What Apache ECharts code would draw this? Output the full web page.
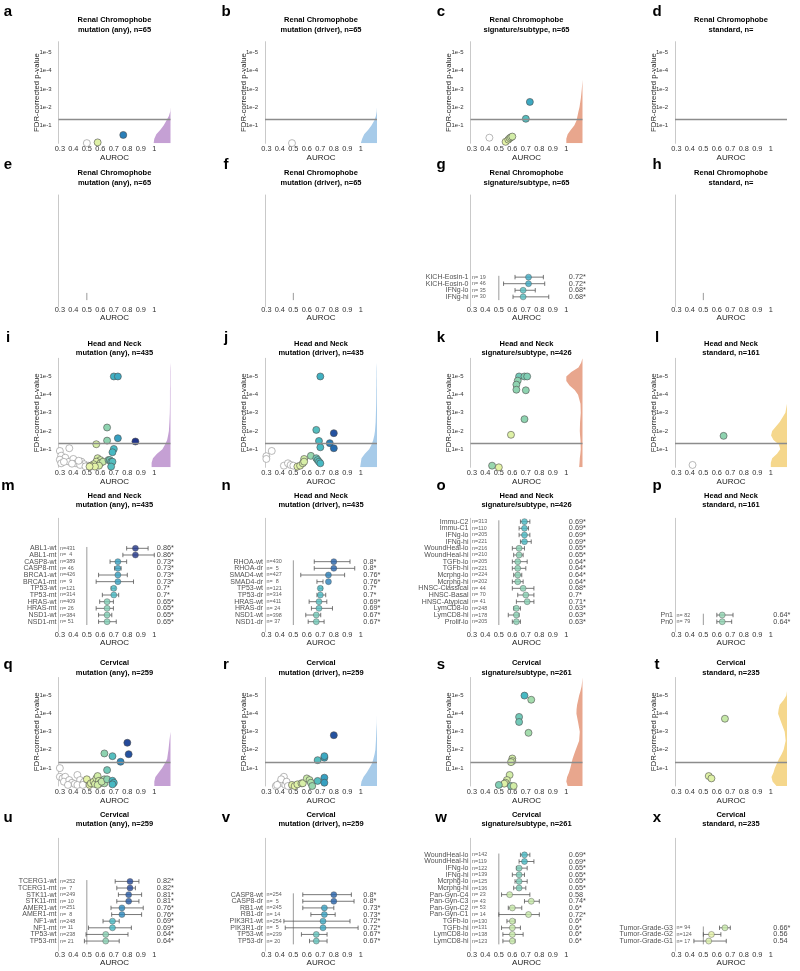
<!DOCTYPE html>
<html><head><meta charset="utf-8">
<script src="https://cdn.jsdelivr.net/npm/echarts@6/dist/echarts.min.js"></script>
<style>html,body{margin:0;padding:0;background:#fff}#c{width:800px;height:971px}</style>
</head><body><div id="c"></div>
<script>
// ================= DATA =================
const letters = [['a','b','c','d'],['e','f','g','h'],['i','j','k','l'],['m','n','o','p'],['q','r','s','t'],['u','v','w','x']];
const cancers = ['Renal Chromophobe','Head and Neck','Cervical'];
const kinds = ['mutation (any)','mutation (driver)','signature/subtype','standard'];
const nKich = ['65','65','65',''];
const nHnsc = ['435','435','426','161'];
const nCesc = ['259','259','261','235'];
const xTicks = [0.3,0.4,0.5,0.6,0.7,0.8,0.9,1];
const yTicks = [1,2,3,4,5];           // -log10(FDR p)
const pThreshold = 0.05;
const violinLevels = [0,0.25,0.5,0.75,1,1.25,1.5,1.75,2,2.5,3,3.5,4,4.25,4.5,4.75,5,5.25,5.5,5.75,6];

// --- scatter panels: AUROC (x), -log10 p (y), colour value (c) ---
const aX = [0.50,0.58,0.77];
const aY = [0.01,0.05,0.46];
const aC = [0.45,0.56,0.77];
const aViolin = [0.125,0.12,0.105,0.075,0.05,0.03,0.012,0.002,0,0,0,0,0,0,0,0,0,0,0,0,0];

const bX = [0.49];
const bY = [0.01];
const bC = [0.45];
const bViolin = [0.12,0.11,0.095,0.065,0.04,0.02,0.008,0.002,0,0,0,0,0,0,0,0,0,0,0,0,0];

const cX = [0.43,0.70,0.73,0.55,0.57,0.58,0.59,0.60];
const cY = [0.31,1.35,2.28,0.08,0.20,0.28,0.33,0.37];
const cC = [0.45,0.69,0.72,0.55,0.56,0.57,0.58,0.58];
const cViolin = [0.12,0.12,0.11,0.086,0.06,0.044,0.037,0.03,0.022,0.012,0.005,0,0,0,0,0,0,0,0,0,0];

const iX = [0.30,0.37,0.31,0.34,0.30,0.31,0.37,0.40,0.42,0.46,0.48,0.45,0.51,0.33,0.39,0.44,0.49,
            0.57,0.58,0.60,0.57,0.55,0.53,0.60,0.62,0.59,0.56,0.52,
            0.65,0.65,0.66,0.67,0.68,0.69,0.68,0.70,0.69,0.70,0.73,0.73,0.86];
const iY = [0.90,1.05,0.64,0.53,0.42,0.22,0.31,0.46,0.22,0.31,0.17,0.13,0.09,0.30,0.20,0.36,0.05,
            1.27,0.50,0.40,0.31,0.17,0.09,0.22,0.31,0.09,0.04,0.04,
            2.19,1.47,0.40,0.40,0.31,0.31,0.04,1.01,0.83,5.00,5.00,1.60,1.42];
const iC = [0.45,0.45,0.45,0.45,0.45,0.45,0.45,0.45,0.45,0.45,0.45,0.45,0.45,0.45,0.45,0.45,0.45,
            0.57,0.57,0.58,0.56,0.56,0.55,0.58,0.60,0.57,0.55,0.54,
            0.65,0.65,0.66,0.67,0.68,0.69,0.69,0.70,0.70,0.71,0.72,0.73,0.86];
const iViolin = [0.14,0.14,0.13,0.10,0.06,0.04,0.025,0.018,0.012,0.008,0.005,0.004,0.004,0.004,0.003,0.003,0.003,0.003,0.002,0,0];

const jX = [0.30,0.30,0.34,0.43,0.46,0.48,0.50,
            0.53,0.55,0.57,0.58,0.58,0.63,0.67,0.68,0.69,0.70,0.67,0.69,0.70,0.70,0.77,0.80,0.80];
const jY = [0.61,0.46,0.90,0.09,0.22,0.13,0.09,
            0.04,0.09,0.22,0.46,0.31,0.63,0.50,0.40,0.31,0.22,2.06,1.45,1.10,5.00,1.33,1.88,1.05];
const jC = [0.45,0.45,0.45,0.45,0.45,0.45,0.45,
            0.55,0.56,0.57,0.58,0.57,0.64,0.67,0.68,0.69,0.70,0.69,0.70,0.70,0.71,0.77,0.82,0.79];
const jViolin = [0.125,0.12,0.115,0.09,0.058,0.04,0.028,0.02,0.015,0.01,0.008,0.006,0.005,0.005,0.004,0.004,0.003,0.003,0.002,0,0];

const kX = [0.65,0.69,0.71,0.64,0.63,0.63,0.70,0.69,0.59,0.45,0.50];
const kY = [5.00,5.00,5.00,4.77,4.55,4.27,4.24,2.65,1.79,0.09,0.00];
const kC = [0.67,0.66,0.66,0.65,0.65,0.65,0.65,0.65,0.56,0.64,0.55];
const kViolin = [0.025,0.022,0.02,0.016,0.013,0.014,0.015,0.018,0.02,0.018,0.013,0.015,0.033,0.058,0.096,0.12,0.12,0.083,0.03,0.01,0];

const lX = [0.42,0.65];
const lY = [0.13,1.73];
const lC = [0.45,0.65];
const lViolin = [0.12,0.12,0.11,0.074,0.05,0.06,0.10,0.118,0.11,0.054,0.012,0,0,0,0,0,0,0,0,0,0];

const qX = [0.30,0.30,0.32,0.34,0.33,0.37,0.39,0.41,0.43,0.45,0.47,0.43,0.48,0.47,0.36,
            0.50,0.52,0.53,0.55,0.56,0.57,0.58,0.59,0.60,0.58,0.63,0.63,0.61,0.65,0.65,0.63,0.69,0.69,0.70,0.69,0.75,0.80,0.81];
const qY = [0.99,0.51,0.42,0.51,0.24,0.33,0.18,0.11,0.61,0.33,0.11,0.06,0.24,0.06,0.06,
            0.37,0.06,0.15,0.24,0.11,0.42,0.55,0.29,0.15,0.06,0.37,0.15,0.24,0.88,0.37,1.80,1.65,0.29,0.18,0.09,1.34,2.39,1.76];
const qC = [0.45,0.45,0.45,0.45,0.45,0.45,0.45,0.45,0.45,0.45,0.45,0.45,0.45,0.45,0.45,
            0.55,0.55,0.56,0.56,0.57,0.57,0.58,0.58,0.59,0.58,0.62,0.62,0.60,0.67,0.65,0.65,0.69,0.70,0.70,0.70,0.76,0.83,0.82];
const qViolin = [0.12,0.12,0.112,0.087,0.062,0.042,0.025,0.02,0.015,0.008,0,0,0,0,0,0,0,0,0,0,0];

const rX = [0.37,0.40,0.43,0.41,0.44,0.45,0.46,0.38,
            0.49,0.51,0.53,0.56,0.57,0.60,0.62,0.63,0.64,0.68,0.68,0.73,0.73,0.73,0.73,0.80];
const rY = [0.00,0.15,0.51,0.37,0.06,0.24,0.00,0.06,
            0.06,0.00,0.09,0.15,0.15,0.42,0.33,0.18,0.00,0.28,1.43,1.56,1.65,0.46,0.18,2.81];
const rC = [0.45,0.45,0.45,0.45,0.45,0.45,0.45,0.45,
            0.55,0.55,0.56,0.57,0.57,0.59,0.60,0.62,0.64,0.69,0.69,0.72,0.72,0.73,0.73,0.82];
const rViolin = [0.12,0.115,0.10,0.076,0.056,0.037,0.027,0.018,0.012,0.008,0.005,0.001,0,0,0,0,0,0,0,0,0];

const sX = [0.69,0.74,0.65,0.65,0.72,0.60,0.60,0.59,0.58,0.56,0.55,0.54,0.50,0.59,0.61];
const sY = [5.00,4.77,3.82,3.54,2.94,1.52,1.38,1.32,0.61,0.33,0.18,0.13,0.06,0.00,0.00];
const sC = [0.70,0.63,0.67,0.67,0.63,0.58,0.58,0.58,0.58,0.57,0.57,0.56,0.66,0.66,0.58];
const sViolin = [0.11,0.12,0.114,0.10,0.09,0.082,0.074,0.062,0.05,0.025,0.02,0.032,0.045,0.044,0.04,0.032,0.025,0.015,0.007,0.003,0];

const tX = [0.66,0.54,0.56];
const tY = [3.72,0.55,0.42];
const tC = [0.60,0.56,0.56];
const tViolin = [0.078,0.107,0.115,0.10,0.09,0.075,0.06,0.04,0.025,0.01,0.017,0.042,0.066,0.062,0.054,0.025,0.005,0,0,0,0];

// --- forest panels ---
const gLabels = ['KICH-Eosin-1','KICH-Eosin-0','IFNg-lo','IFNg-hi'];
const gN   = [19,46,35,30];
const gAuc = [0.72,0.72,0.68,0.68];
const gLo  = [0.62,0.535,0.62,0.605];
const gHi  = [0.83,0.84,0.77,0.87];
const gSig = [1,1,1,1];
const gC   = [0.72,0.72,0.69,0.69];

const mLabels = ['ABL1-wt','ABL1-mt','CASP8-wt','CASP8-mt','BRCA1-wt','BRCA1-mt','TP53-wt','TP53-mt','HRAS-wt','HRAS-mt','NSD1-wt','NSD1-mt'];
const mN   = [431,4,389,46,426,9,121,314,409,26,384,51];
const mAuc = [0.86,0.86,0.73,0.73,0.73,0.73,0.7,0.7,0.65,0.65,0.65,0.65];
const mLo  = [0.795,0.767,0.672,0.705,0.587,0.569,0.68,0.615,0.595,0.569,0.587,0.587];
const mHi  = [0.954,1.0,0.795,0.754,0.80,0.846,0.71,0.736,0.697,0.697,0.685,0.718];
const mSig = [1,1,1,1,1,1,1,1,1,1,1,1];
const mC   = [0.86,0.86,0.73,0.73,0.73,0.73,0.70,0.70,0.66,0.66,0.66,0.66];

const nLabels = ['RHOA-wt','RHOA-dr','SMAD4-wt','SMAD4-dr','TP53-wt','TP53-dr','HRAS-wt','HRAS-dr','NSD1-wt','NSD1-dr'];
const nN   = [430,5,427,8,121,314,411,24,398,37];
const nAuc = [0.8,0.8,0.76,0.76,0.7,0.7,0.69,0.69,0.67,0.67];
const nLo  = [0.655,0.655,0.555,0.675,0.69,0.675,0.617,0.634,0.592,0.61];
const nHi  = [0.92,0.955,0.88,0.72,0.715,0.74,0.748,0.79,0.703,0.728];
const nSig = [1,1,1,1,1,1,1,1,1,1];
const nC   = [0.80,0.80,0.77,0.77,0.70,0.70,0.69,0.69,0.67,0.67];

const oLabels = ['Immu-C2','Immu-C1','IFNg-lo','IFNg-hi','WoundHeal-lo','WoundHeal-hi','TGFb-lo','TGFb-hi','Mcrphg-lo','Mcrphg-hi','HNSC-Classical','HNSC-Basal','HNSC-Atypical','LymCD8-lo','LymCD8-hi','Prolif-lo'];
const oN   = [313,110,205,221,216,210,205,221,224,202,44,70,41,248,178,205];
const oAuc = [0.69,0.69,0.69,0.69,0.65,0.65,0.64,0.64,0.64,0.64,0.68,0.7,0.71,0.63,0.63,0.63];
const oLo  = [0.66,0.65,0.65,0.66,0.60,0.61,0.60,0.60,0.61,0.60,0.60,0.64,0.63,0.61,0.57,0.60];
const oHi  = [0.73,0.72,0.73,0.74,0.69,0.68,0.71,0.70,0.67,0.68,0.76,0.76,0.76,0.66,0.65,0.66];
const oSig = [1,1,1,1,1,1,1,1,1,1,1,1,1,1,1,1];
const oC   = [0.70,0.70,0.70,0.70,0.655,0.655,0.655,0.655,0.655,0.655,0.655,0.655,0.655,0.655,0.655,0.655];

const pLabels = ['Pn1','Pn0'];
const pN   = [82,79];
const pAuc = [0.64,0.64];
const pLo  = [0.60,0.60];
const pHi  = [0.72,0.71];
const pSig = [1,1];
const pC   = [0.65,0.65];

const uLabels = ['TCERG1-wt','TCERG1-mt','STK11-wt','STK11-mt','AMER1-wt','AMER1-mt','NF1-wt','NF1-mt','TP53-wt','TP53-mt'];
const uN   = [252,7,249,10,251,8,248,11,238,21];
const uAuc = [0.82,0.82,0.81,0.81,0.76,0.76,0.69,0.69,0.64,0.64];
const uLo  = [0.71,0.722,0.734,0.722,0.679,0.684,0.62,0.512,0.494,0.482];
const uHi  = [0.886,0.86,0.906,0.886,0.918,0.906,0.74,0.83,0.805,0.74];
const uSig = [1,1,1,1,1,1,1,1,1,1];
const uC   = [0.83,0.83,0.81,0.81,0.76,0.76,0.70,0.70,0.655,0.655];

const vLabels = ['CASP8-wt','CASP8-dr','RB1-wt','RB1-dr','PIK3R1-wt','PIK3R1-dr','TP53-wt','TP53-dr'];
const vN   = [254,5,245,14,254,5,239,20];
const vAuc = [0.8,0.8,0.73,0.73,0.72,0.72,0.67,0.67];
const vLo  = [0.57,0.57,0.57,0.63,0.43,0.44,0.56,0.62];
const vHi  = [0.93,0.95,0.80,0.81,0.92,0.98,0.75,0.75];
const vSig = [1,1,1,1,1,1,1,1];
const vC   = [0.80,0.80,0.73,0.73,0.72,0.72,0.68,0.68];

const wLabels = ['WoundHeal-lo','WoundHeal-hi','IFNg-lo','IFNg-hi','Mcrphg-lo','Mcrphg-hi','Pan-Gyn-C4','Pan-Gyn-C3','Pan-Gyn-C2','Pan-Gyn-C1','TGFb-lo','TGFb-hi','LymCD8-lo','LymCD8-hi'];
const wN   = [142,119,122,139,125,136,23,43,53,14,130,131,138,123];
const wAuc = [0.69,0.69,0.65,0.65,0.65,0.65,0.58,0.74,0.6,0.72,0.6,0.6,0.6,0.6];
const wLo  = [0.66,0.65,0.63,0.60,0.62,0.61,0.52,0.69,0.57,0.50,0.56,0.52,0.53,0.53];
const wHi  = [0.73,0.76,0.71,0.69,0.71,0.70,0.73,0.80,0.67,0.80,0.62,0.66,0.68,0.62];
const wSig = [1,1,1,1,1,1,0,1,1,1,1,1,1,1];
const wC   = [0.70,0.70,0.665,0.665,0.665,0.665,0.60,0.60,0.60,0.60,0.60,0.60,0.60,0.60];

const xLabels = ['Tumor-Grade-G3','Tumor-Grade-G2','Tumor-Grade-G1'];
const xN   = [94,124,17];
const xAuc = [0.66,0.56,0.54];
const xLo  = [0.62,0.50,0.43];
const xHi  = [0.70,0.63,0.67];
const xSig = [1,0,0];
const xC   = [0.60,0.55,0.57];

// ================= LAYOUT / STYLE =================
const FONT = 'Liberation Sans, Arial, Helvetica, sans-serif';
const X_MIN = 0.29, X_MAX = 1.12;
const COL_LEFT = [58.5, 265, 470.5, 675];
const GRID_W = 112;
const LETTER_X = [8, 226, 441, 657];
const ROWS = [
  {top:41.7,  height:101.6, ymax:5.6, t1:20,    t2:29.5,  letter:12},
  {top:195,   height:111.7,           t1:173.3, t2:182.7, letter:165},
  {top:358.3, height:109,   ymax:6,   t1:344.3, t2:353,   letter:337.7},
  {top:518.3, height:113.4,           t1:496,   t2:504.5, letter:486},
  {top:677.5, height:108.5, ymax:6,   t1:663.3, t2:672.8, letter:665},
  {top:838.3, height:112.7,           t1:815,   t2:824,   letter:818.3}
];
const VIOLIN_COL = ['#c5a0d4','#a7cbe9','#e8a68d','#f5d78c'];
const CMAP = [[0.50,[241,249,184]],[0.55,[228,243,166]],[0.60,[198,233,168]],[0.65,[142,211,176]],
              [0.70,[71,185,195]],[0.75,[43,144,192]],[0.80,[37,99,171]],[0.85,[35,56,143]],[0.90,[27,39,117]]];
function colourOf(v){
  if (v < 0.5) return '#ffffff';
  if (v >= CMAP[CMAP.length-1][0]) { const c=CMAP[CMAP.length-1][1]; return `rgb(${c})`; }
  for (let i=0;i<CMAP.length-1;i++){
    const [a,ca]=CMAP[i],[b,cb]=CMAP[i+1];
    if (v>=a && v<=b){ const t=(v-a)/(b-a); return 'rgb('+ca.map((x,k)=>Math.round(x+(cb[k]-x)*t)).join(',')+')'; }
  }
  return '#fff';
}

const scatterPanels = [
  {row:0,col:0,x:aX,y:aY,c:aC,v:aViolin},
  {row:0,col:1,x:bX,y:bY,c:bC,v:bViolin},
  {row:0,col:2,x:cX,y:cY,c:cC,v:cViolin},
  {row:0,col:3,x:[],y:[],c:[],v:null},
  {row:2,col:0,x:iX,y:iY,c:iC,v:iViolin},
  {row:2,col:1,x:jX,y:jY,c:jC,v:jViolin},
  {row:2,col:2,x:kX,y:kY,c:kC,v:kViolin},
  {row:2,col:3,x:lX,y:lY,c:lC,v:lViolin},
  {row:4,col:0,x:qX,y:qY,c:qC,v:qViolin},
  {row:4,col:1,x:rX,y:rY,c:rC,v:rViolin},
  {row:4,col:2,x:sX,y:sY,c:sC,v:sViolin},
  {row:4,col:3,x:tX,y:tY,c:tC,v:tViolin}
];
const EMPTY = {labels:[],n:[],auc:[],lo:[],hi:[],sig:[],c:[]};
const forestPanels = [
  {row:1,col:0,...EMPTY},
  {row:1,col:1,...EMPTY},
  {row:1,col:2,labels:gLabels,n:gN,auc:gAuc,lo:gLo,hi:gHi,sig:gSig,c:gC},
  {row:1,col:3,...EMPTY},
  {row:3,col:0,labels:mLabels,n:mN,auc:mAuc,lo:mLo,hi:mHi,sig:mSig,c:mC},
  {row:3,col:1,labels:nLabels,n:nN,auc:nAuc,lo:nLo,hi:nHi,sig:nSig,c:nC},
  {row:3,col:2,labels:oLabels,n:oN,auc:oAuc,lo:oLo,hi:oHi,sig:oSig,c:oC},
  {row:3,col:3,labels:pLabels,n:pN,auc:pAuc,lo:pLo,hi:pHi,sig:pSig,c:pC},
  {row:5,col:0,labels:uLabels,n:uN,auc:uAuc,lo:uLo,hi:uHi,sig:uSig,c:uC},
  {row:5,col:1,labels:vLabels,n:vN,auc:vAuc,lo:vLo,hi:vHi,sig:vSig,c:vC},
  {row:5,col:2,labels:wLabels,n:wN,auc:wAuc,lo:wLo,hi:wHi,sig:wSig,c:wC},
  {row:5,col:3,labels:xLabels,n:xN,auc:xAuc,lo:xLo,hi:xHi,sig:xSig,c:xC}
];

// ================= BUILD =================
const grid=[], xAxis=[], yAxis=[], series=[], graphic=[];
const fmtX = v => String(+(+v).toFixed(1));

function xAxisFor(gi, gap){
  return {gridIndex:gi, type:'value', min:X_MIN, max:X_MAX,
    axisLine:{show:false,onZero:false}, axisTick:{show:false}, splitLine:{show:false},
    axisLabel:{customValues:xTicks, formatter:fmtX, fontSize:7.4, color:'#333', margin:gap.m, fontFamily:FONT, hideOverlap:false},
    name:'AUROC', nameLocation:'middle', nameGap:gap.n, nameMoveOverlap:false,
    nameTextStyle:{fontSize:8, color:'#222', fontFamily:FONT}};
}

function addHeader(row,col){
  const R = ROWS[row];
  const cx = COL_LEFT[col] + GRID_W/2;
  const ci = Math.floor(row/2);
  const nArr = [nKich,nHnsc,nCesc][ci];
  graphic.push({type:'text', x:LETTER_X[col], y:R.letter, silent:true,
    style:{text:letters[row][col], fontSize:15, fontWeight:'bold', fontFamily:FONT, fill:'#000', align:'center', verticalAlign:'middle'}});
  graphic.push({type:'text', x:cx, y:R.t1, silent:true,
    style:{text:cancers[ci], fontSize:7.5, fontWeight:'bold', fontFamily:FONT, fill:'#000', align:'center', verticalAlign:'middle'}});
  graphic.push({type:'text', x:cx, y:R.t2, silent:true,
    style:{text:kinds[col]+', n='+nArr[col], fontSize:7.5, fontWeight:'bold', fontFamily:FONT, fill:'#000', align:'center', verticalAlign:'middle'}});
}

scatterPanels.forEach(p=>{
  const R = ROWS[p.row];
  const gi = grid.length;
  grid.push({left:COL_LEFT[p.col], top:R.top, width:GRID_W, height:R.height, outerBoundsMode:'none'});
  xAxis.push(xAxisFor(gi,{m:2,n:10.5}));
  yAxis.push({gridIndex:gi, type:'value', min:0, max:R.ymax,
    axisLine:{show:true,onZero:false,lineStyle:{color:'#c9c9c9',width:1}}, axisTick:{show:false}, splitLine:{show:false},
    axisLabel:{customValues:yTicks, formatter:v=>'1e-'+Math.round(v), fontSize:6, color:'#333', margin:7, fontFamily:FONT, hideOverlap:false},
    name:'FDR-corrected p-value', nameLocation:'middle', nameGap:17.5, nameRotate:90, nameMoveOverlap:false,
    nameTextStyle:{fontSize:7.8, color:'#222', fontFamily:FONT}});
  if (p.v){
    const widths = p.v, fill = VIOLIN_COL[p.col];
    series.push({type:'custom', xAxisIndex:gi, yAxisIndex:gi, z:1, silent:true, clip:true,
      data:[[X_MAX,0]],
      renderItem:(params,api)=>{
        const pts = violinLevels.map((y,k)=>api.coord([X_MAX-widths[k], y]));
        pts.push(api.coord([X_MAX, violinLevels[violinLevels.length-1]]));
        pts.push(api.coord([X_MAX, 0]));
        return {type:'polygon', shape:{points:pts}, style:{fill:fill, stroke:null}};
      }});
  }
  series.push({type:'scatter', xAxisIndex:gi, yAxisIndex:gi, z:3, symbolSize:7, clip:false,
    data:p.x.map((x,k)=>({value:[x,p.y[k]], itemStyle:{color:colourOf(p.c[k]), borderColor:p.c[k]<0.5?'#8a8a8a':'#4d4d4d', borderWidth:0.6, opacity:1}})),
    markLine:{silent:true, symbol:'none', animation:false, label:{show:false},
      lineStyle:{color:'#8c8c8c', width:1.3, type:'solid'}, data:[{yAxis:-Math.log10(pThreshold)}]}});
  addHeader(p.row,p.col);
});

forestPanels.forEach(p=>{
  const R = ROWS[p.row];
  const gi = grid.length;
  const n = p.labels.length;
  const pos = p.labels.map((_,k)=>n-k);
  grid.push({left:COL_LEFT[p.col], top:R.top, width:GRID_W, height:R.height, outerBoundsMode:'none'});
  xAxis.push(xAxisFor(gi,{m:0,n:7.5}));
  yAxis.push({gridIndex:gi, type:'value', min:-0.5, max:16.5,
    axisLine:{show:true,onZero:false,lineStyle:{color:'#c9c9c9',width:1}}, axisTick:{show:false}, splitLine:{show:false},
    axisLabel:{show:false}});
  // reference line at AUROC 0.5
  series.push({type:'custom', xAxisIndex:gi, yAxisIndex:gi, z:1, silent:true, clip:false,
    data:[[0.5, 0.5, n>0 ? n+0.2 : 1.6]],
    encode:{x:0,y:[1,2]},
    renderItem:(params,api)=>{
      const a=api.coord([api.value(0),api.value(1)]), b=api.coord([api.value(0),api.value(2)]);
      return {type:'line', shape:{x1:a[0],y1:a[1],x2:b[0],y2:b[1]}, style:{stroke:'#9a9a9a',lineWidth:1}};
    }});
  if (!n){ addHeader(p.row,p.col); return; }
  // error bars
  series.push({type:'custom', xAxisIndex:gi, yAxisIndex:gi, z:2, silent:true, clip:false,
    data:pos.map((y,k)=>[p.lo[k],p.hi[k],y]),
    encode:{x:[0,1],y:2},
    renderItem:(params,api)=>{
      const y=api.value(2);
      const a=api.coord([api.value(0),y]), b=api.coord([api.value(1),y]);
      const cap=2.2, st={stroke:'#555',lineWidth:0.8};
      return {type:'group', children:[
        {type:'line', shape:{x1:a[0],y1:a[1],x2:b[0],y2:b[1]}, style:st},
        {type:'line', shape:{x1:a[0],y1:a[1]-cap,x2:a[0],y2:a[1]+cap}, style:st},
        {type:'line', shape:{x1:b[0],y1:b[1]-cap,x2:b[0],y2:b[1]+cap}, style:st}]};
    }});
  // points
  series.push({type:'scatter', xAxisIndex:gi, yAxisIndex:gi, z:3, symbolSize:6, clip:false,
    data:pos.map((y,k)=>({value:[p.auc[k],y], itemStyle:{color:colourOf(p.c[k]), borderColor:'#4d4d4d', borderWidth:0.5}}))});
  // row names (left of axis)
  series.push({type:'scatter', xAxisIndex:gi, yAxisIndex:gi, z:4, symbolSize:1, silent:true, clip:false,
    itemStyle:{color:'transparent'}, labelLayout:{hideOverlap:false},
    label:{show:true, position:'left', distance:1.5, formatter:'{b}', fontSize:7, color:'#222', fontFamily:FONT},
    data:pos.map((y,k)=>({name:p.labels[k], value:[X_MIN,y]}))});
  // n= labels
  const nTxt = v => v<10 ? 'n=  '+v : (v<100 ? 'n= '+v : 'n='+v);
  series.push({type:'scatter', xAxisIndex:gi, yAxisIndex:gi, z:4, symbolSize:1, silent:true, clip:false,
    itemStyle:{color:'transparent'}, labelLayout:{hideOverlap:false},
    label:{show:true, position:'right', distance:1, formatter:'{b}', fontSize:5.4, color:'#333', fontFamily:FONT},
    data:pos.map((y,k)=>({name:nTxt(p.n[k]), value:[X_MIN,y]}))});
  // value labels
  series.push({type:'scatter', xAxisIndex:gi, yAxisIndex:gi, z:4, symbolSize:1, silent:true, clip:false,
    itemStyle:{color:'transparent'}, labelLayout:{hideOverlap:false},
    label:{show:true, position:'right', distance:0, formatter:'{b}', fontSize:7.3, color:'#111', fontFamily:FONT},
    data:pos.map((y,k)=>({name:String(p.auc[k])+(p.sig[k]?'*':''), value:[1.015,y]}))});
  addHeader(p.row,p.col);
});

const chart = echarts.init(document.getElementById('c'), null, {renderer:'canvas'});
chart.setOption({backgroundColor:'#fff', animation:false, grid, xAxis, yAxis, series, graphic});
</script></body></html>
